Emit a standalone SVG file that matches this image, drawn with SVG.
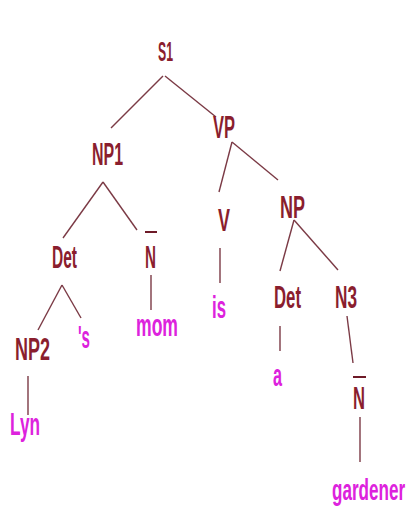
<svg xmlns="http://www.w3.org/2000/svg" width="413" height="510" viewBox="0 0 413 510">
  <style>
    text { font-family: "Liberation Sans", Arial, sans-serif; font-weight: bold; font-size: 32px; }
    .cat { fill: #8a1e2e; }
    .word { fill: #dd22dd; }
    .edge { stroke: #7b3a45; stroke-width: 1.4; fill: none; }
    .bar { stroke: #6e1a28; stroke-width: 2; }
  </style>
  <rect width="413" height="510" fill="#ffffff"/>

  <!-- tree branches -->
  <g id="connectors">
    <line class="edge" x1="163" y1="76" x2="111" y2="128"/>
    <line class="edge" x1="165" y1="76" x2="216" y2="117"/>
    <line class="edge" x1="103" y1="182" x2="63" y2="238"/>
    <line class="edge" x1="103" y1="182" x2="137" y2="230"/>
    <line class="edge" x1="232" y1="142" x2="219" y2="192"/>
    <line class="edge" x1="232" y1="142" x2="278" y2="180"/>
    <line class="edge" x1="62" y1="285" x2="38" y2="330"/>
    <line class="edge" x1="62" y1="285" x2="81" y2="318"/>
    <line class="edge" x1="151" y1="275" x2="151" y2="310"/>
    <line class="edge" x1="220" y1="248" x2="220" y2="283"/>
    <line class="edge" x1="294" y1="220" x2="280" y2="271"/>
    <line class="edge" x1="294" y1="220" x2="338" y2="270"/>
    <line class="edge" x1="280" y1="326" x2="280" y2="351"/>
    <line class="edge" x1="347" y1="316" x2="353" y2="363"/>
    <line class="edge" x1="360" y1="417" x2="360" y2="462"/>
    <line class="edge" x1="28" y1="376" x2="28" y2="415"/>
  </g>

  <!-- category labels -->
  <g id="S1"><text class="cat" x="158" y="61" style="font-size:27px" textLength="15" lengthAdjust="spacingAndGlyphs">S1</text></g>
  <g id="NP1"><text class="cat" x="92" y="165" textLength="31" lengthAdjust="spacingAndGlyphs">NP1</text></g>
  <g id="VP"><text class="cat" x="213" y="138" textLength="22" lengthAdjust="spacingAndGlyphs">VP</text></g>
  <g id="Det1"><text class="cat" x="52" y="268" textLength="25" lengthAdjust="spacingAndGlyphs">Det</text></g>
  <g id="Nbar1">
    <line class="bar" x1="145" y1="232" x2="157" y2="232"/>
    <text class="cat" x="145" y="268" textLength="11" lengthAdjust="spacingAndGlyphs">N</text>
  </g>
  <g id="NP2"><text class="cat" x="15" y="360" textLength="35" lengthAdjust="spacingAndGlyphs">NP2</text></g>
  <g id="V"><text class="cat" x="218" y="231" textLength="12" lengthAdjust="spacingAndGlyphs">V</text></g>
  <g id="NP"><text class="cat" x="280" y="218" textLength="25" lengthAdjust="spacingAndGlyphs">NP</text></g>
  <g id="Det2"><text class="cat" x="274" y="308" textLength="27" lengthAdjust="spacingAndGlyphs">Det</text></g>
  <g id="N3"><text class="cat" x="335" y="308" textLength="22" lengthAdjust="spacingAndGlyphs">N3</text></g>
  <g id="Nbar2">
    <line class="bar" x1="353" y1="377" x2="366" y2="377"/>
    <text class="cat" x="353" y="409" textLength="12" lengthAdjust="spacingAndGlyphs">N</text>
  </g>

  <!-- words -->
  <g id="w-Lyn"><text class="word" x="10" y="435" textLength="30" lengthAdjust="spacingAndGlyphs">Lyn</text></g>
  <g id="w-s"><text class="word" x="78" y="348" textLength="12" lengthAdjust="spacingAndGlyphs">'s</text></g>
  <g id="w-mom"><text class="word" x="136" y="336" textLength="42" lengthAdjust="spacingAndGlyphs">mom</text></g>
  <g id="w-is"><text class="word" x="212" y="318" textLength="14" lengthAdjust="spacingAndGlyphs">is</text></g>
  <g id="w-a"><text class="word" x="273" y="386" textLength="9" lengthAdjust="spacingAndGlyphs">a</text></g>
  <!-- long word: condensed by a horizontal scale so it stays inside the frame -->
  <g id="w-gardener" transform="translate(332,500) scale(0.57,1)"><text class="word" x="0" y="0" style="font-size:30px">gardener</text></g>
</svg>
